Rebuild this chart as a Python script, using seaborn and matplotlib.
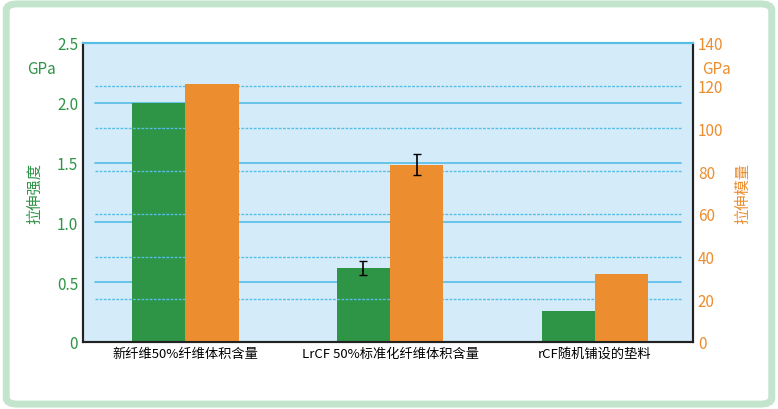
import numpy as np
import pandas as pd
import matplotlib.pyplot as plt
import seaborn as sns
from matplotlib.patches import FancyBboxPatch

categories = ["新纤维50%纤维体积含量", "LrCF 50%标准化纤维体积含量", "rCF随机铺设的垫料"]
strength = [2.0, 0.62, 0.26]          # GPa, left axis
strength_err = [np.nan, 0.06, np.nan]
modulus = [121, 83, 32]               # GPa, right axis
modulus_err = [np.nan, 5, np.nan]

GREEN = "#2e9446"
ORANGE = "#ec8d2f"
LINE = "#55bde6"

sns.set_style("white")
plt.rcParams["font.family"] = ["Noto Sans CJK SC", "DejaVu Sans"]

df = pd.DataFrame({
    "cat": categories * 2,
    "series": ["s"] * 3 + ["m"] * 3,
    "strength": strength + [np.nan] * 3,
    "modulus": [np.nan] * 3 + modulus,
})

fig = plt.figure(figsize=(7.78, 4.1), dpi=100)
fig.patches.append(FancyBboxPatch((0.008, 0.012), 0.984, 0.976, boxstyle="round,pad=0,rounding_size=0.015",
                                  transform=fig.transFigure, fill=False, ec="#c3e5cd", lw=5))
ax = fig.add_axes([83 / 778, 1 - 343 / 410, 610 / 778, 299 / 410])
ax2 = ax.twinx()
ax.set_facecolor("#d4ecf9")

pal = {"s": GREEN, "m": ORANGE}
sns.barplot(data=df, x="cat", y="strength", hue="series", hue_order=["s", "m"], palette=pal,
            width=0.52, dodge=True, ax=ax, legend=False, saturation=1, linewidth=0)
sns.barplot(data=df, x="cat", y="modulus", hue="series", hue_order=["s", "m"], palette=pal,
            width=0.52, dodge=True, ax=ax2, legend=False, saturation=1, linewidth=0)

xs = np.arange(len(categories))
ax.errorbar(xs - 0.13, strength, yerr=strength_err, fmt="none", ecolor="black", capsize=3, lw=1.2)
ax2.errorbar(xs + 0.13, modulus, yerr=modulus_err, fmt="none", ecolor="black", capsize=3, lw=1.2)

ax.set_xlim(-0.5, 2.48)
ax.set_ylim(0, 2.5)
ax2.set_ylim(0, 140)
ax.set_yticks([0, 0.5, 1.0, 1.5, 2.0, 2.5], ["0", "0.5", "1.0", "1.5", "2.0", "2.5"])
ax2.set_yticks(range(0, 141, 20))
for v in [0.5, 1.0, 1.5, 2.0]:
    ax.axhline(v, xmin=0.02, xmax=0.98, color=LINE, lw=1.2, zorder=0)
for v in range(20, 121, 20):
    ax2.axhline(v, xmin=0.02, xmax=0.98, color=LINE, lw=1, ls=(0, (2, 1)), zorder=0.5)
ax.set_axisbelow(True)

ax.tick_params(axis="y", colors=GREEN, labelsize=11, length=0)
ax2.tick_params(axis="y", colors=ORANGE, labelsize=11, length=0)
ax.tick_params(axis="x", labelsize=9.5, length=0, colors="black")
ax.set_xlabel("")
ax.set_ylabel("拉伸强度", color=GREEN, fontsize=11, labelpad=10)
ax2.set_ylabel("拉伸模量", color=ORANGE, fontsize=11, labelpad=8)
ax.text(-0.045, 0.9, "GPa", transform=ax.transAxes, color=GREEN, fontsize=11, ha="right")
ax2.text(1.015, 0.9, "GPa", transform=ax.transAxes, color=ORANGE, fontsize=11, ha="left")
for a in (ax, ax2):
    for s in a.spines.values():
        s.set_color("#222222")
        s.set_linewidth(1.5)
    a.spines["top"].set_color(LINE)

fig.savefig("out.png", dpi=100)
